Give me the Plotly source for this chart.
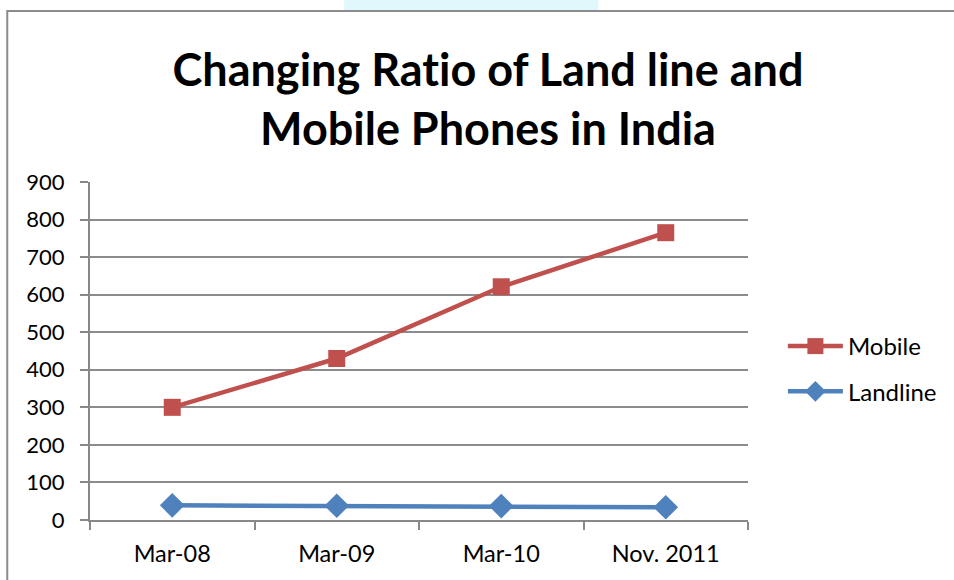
import plotly.graph_objects as go

# Subscriber counts (millions) by period
periods = ["Mar-08", "Mar-09", "Mar-10", "Nov. 2011"]
mobile = [300, 430, 621, 765]
landline = [39, 38, 37, 34]

W, H = 954, 580
L, R, T, B = 90, 204, 182, 60
pw, ph = W - L - R, H - T - B


def px_x(x):
    return (x - L) / pw


def px_y(y):
    return (H - B - y) / ph


FONT = "Lato, Carlito, Calibri, sans-serif"

fig = go.Figure()
fig.add_trace(go.Scatter(
    x=periods, y=mobile, name="Mobile", mode="lines+markers", legendgroup="mobile",
    line=dict(color="#C0504D", width=4.5),
    marker=dict(symbol="square", size=17, color="#C0504D"),
))
fig.add_trace(go.Scatter(
    x=periods, y=landline, name="Landline", mode="lines+markers", legendgroup="landline",
    line=dict(color="#4F81BD", width=4.5),
    marker=dict(symbol="diamond", size=19, color="#4F81BD"),
))

# outer chart frame and faint band above it
fig.add_shape(type="rect", xref="paper", yref="paper",
              x0=px_x(345), x1=px_x(600), y0=px_y(10), y1=px_y(-2),
              fillcolor="#e0f8fb", line=dict(width=0), layer="below")
fig.add_shape(type="rect", xref="paper", yref="paper",
              x0=px_x(7), x1=px_x(970), y0=px_y(11), y1=px_y(600),
              line=dict(color="#8c8c8c", width=2), fillcolor="rgba(0,0,0,0)")

fig.update_layout(
    width=W, height=H,
    margin=dict(l=L, r=R, t=T, b=B),
    paper_bgcolor="white", plot_bgcolor="white",
    font=dict(family=FONT, color="black", size=22),
    title=dict(
        text="<b>Changing Rat\u200cio of Land line and<br>Mobile Phones in India</b>",
        x=488 / W, xanchor="center", xref="container",
        y=1 - 86 / H, yanchor="middle", yref="container",
        font=dict(size=45, family=FONT, color="black"),
    ),
    showlegend=True,
    legend=dict(
        x=px_x(785), y=px_y(369), xanchor="left", yanchor="middle",
        font=dict(size=24), bgcolor="rgba(0,0,0,0)", itemwidth=55,
        tracegroupgap=11, itemsizing="trace",
    ),
    xaxis=dict(
        type="category", range=[-0.5, 3.5], tickson="boundaries",
        showline=True, linecolor="#888888", linewidth=2,
        ticks="outside", ticklen=8, tickcolor="#888888", tickwidth=2,
        showgrid=False, tickfont=dict(size=23.5), ticklabelstandoff=12,
    ),
    yaxis=dict(
        range=[0, 900], dtick=100, tick0=0,
        showline=True, linecolor="#888888", linewidth=2,
        ticks="outside", ticklen=8, tickcolor="#888888", tickwidth=2,
        showgrid=True, gridcolor="#8c8c8c", gridwidth=2,
        zeroline=False, tickfont=dict(size=22), ticklabelstandoff=11,
    ),
)

fig.write_html("out.html")
